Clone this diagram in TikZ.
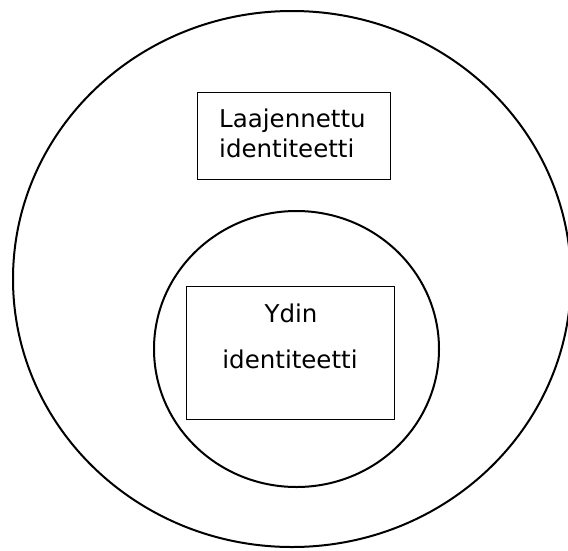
\documentclass[tikz,border=0pt]{standalone}
\usepackage{fontspec}
\setmainfont{DejaVu Sans}
\begin{document}
\begin{tikzpicture}[x=1pt,y=-1pt,
  ring/.style={draw=black,line width=2pt},
  boxstyle/.style={draw=black,line width=1pt,inner sep=0pt,fill=none},
  label/.style={inner sep=0pt,font=\fontsize{24.5}{30}\selectfont}]
\useasboundingbox (0,0) rectangle (568,550);
\fill[white] (0,0) rectangle (568,550);
% outer and inner rings
\draw[ring] (292,279) ellipse [x radius=279pt, y radius=268pt];
\draw[ring] (296.5,349) ellipse [x radius=142.5pt, y radius=138pt];
% boxes
\node[boxstyle,minimum width=193pt,minimum height=87pt] (box1) at (293.5,135.5) {};
\node[boxstyle,minimum width=208pt,minimum height=133pt] (box2) at (290,352.5) {};
% texts
\node[label,anchor=base west] (t1a) at (219,127) {Laajennettu};
\node[label,anchor=base west] (t1b) at (219,157) {identiteetti};
\node[label,anchor=base] (t2a) at (291,322) {Ydin};
\node[label,anchor=base] (t2b) at (290,368) {identiteetti};
\end{tikzpicture}
\end{document}
